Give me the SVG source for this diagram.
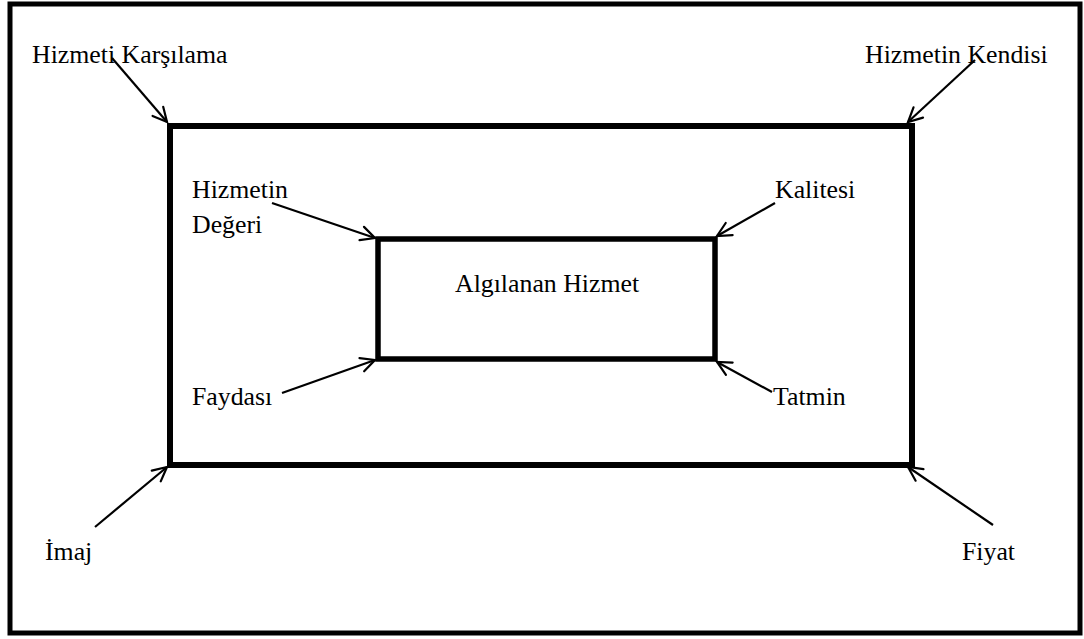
<svg xmlns="http://www.w3.org/2000/svg" width="1084" height="639" viewBox="0 0 1084 639">
  <style>
    .frame { fill: none; stroke: #000; }
    .lbl { font-family: "Liberation Serif", "Times New Roman", serif; font-size: 25.8px; fill: #000; }
    .arrow { stroke: #000; stroke-width: 2.2; fill: none; marker-end: url(#head); }
  </style>
  <defs>
    <marker id="head" markerUnits="userSpaceOnUse" viewBox="-16 -9 18 18" refX="0" refY="0" markerWidth="18" markerHeight="18" orient="auto">
      <path d="M-14,-7 L0,0 L-14,7" fill="none" stroke="#000" stroke-width="2.2" stroke-linecap="round" stroke-linejoin="miter"/>
    </marker>
  </defs>
  <rect width="1084" height="639" fill="#fff"/>

  <!-- outer border -->
  <rect id="border" class="frame" x="10" y="4" width="1070" height="629" stroke-width="5"/>

  <!-- middle rectangle -->
  <g id="service-frame">
    <rect class="frame" x="170" y="126" width="742" height="339" stroke-width="6"/>
  </g>

  <!-- inner rectangle -->
  <g id="perceived-service">
    <rect class="frame" x="378" y="239" width="337" height="120" stroke-width="5.5"/>
    <text class="lbl" x="455" y="292">Algılanan Hizmet</text>
  </g>

  <g id="hizmeti-karsilama"><text class="lbl" x="32" y="63">Hizmeti Karşılama</text></g>
  <g id="hizmetin-kendisi"><text class="lbl" x="865" y="63">Hizmetin Kendisi</text></g>
  <g id="hizmetin-degeri">
    <text class="lbl" x="192" y="198">Hizmetin</text>
    <text class="lbl" x="192" y="233">Değeri</text>
  </g>
  <g id="kalitesi"><text class="lbl" x="775" y="198">Kalitesi</text></g>
  <g id="faydasi"><text class="lbl" x="192" y="405">Faydası</text></g>
  <g id="tatmin"><text class="lbl" x="773" y="405">Tatmin</text></g>
  <g id="imaj"><text class="lbl" x="45" y="560">İmaj</text></g>
  <g id="fiyat"><text class="lbl" x="962" y="560">Fiyat</text></g>

  <g id="connectors">
    <line class="arrow" x1="112" y1="58" x2="167" y2="122"/>
    <line class="arrow" x1="975" y1="60" x2="908" y2="122"/>
    <line class="arrow" x1="272" y1="203" x2="375" y2="238"/>
    <line class="arrow" x1="775" y1="203" x2="717" y2="236"/>
    <line class="arrow" x1="282" y1="393" x2="375" y2="360"/>
    <line class="arrow" x1="772" y1="392" x2="717" y2="362"/>
    <line class="arrow" x1="95" y1="527" x2="167" y2="467"/>
    <line class="arrow" x1="993" y1="525" x2="908" y2="467"/>
  </g>
</svg>
